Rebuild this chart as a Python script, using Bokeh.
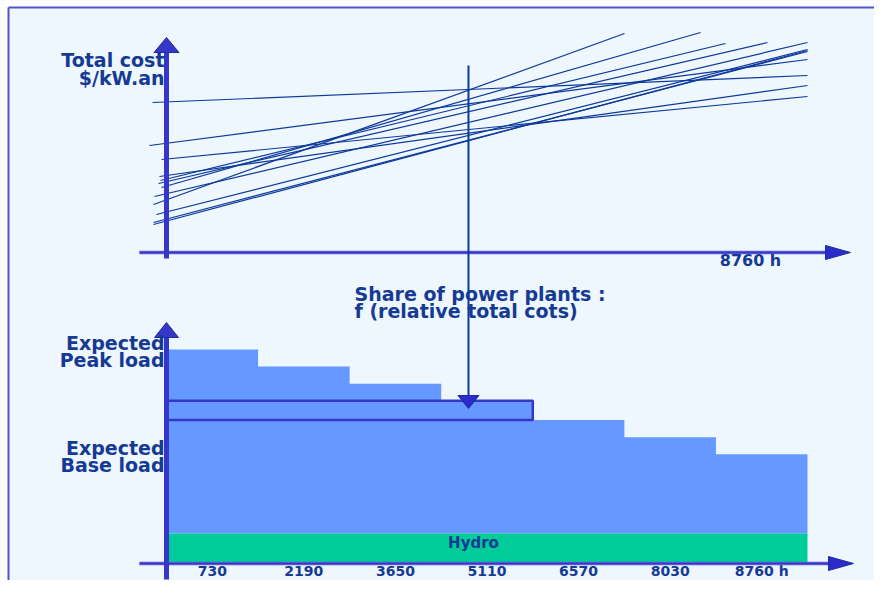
from bokeh.plotting import figure
from bokeh.models import Range1d
from bokeh.embed import file_html
from bokeh.resources import INLINE
from bokeh.core.properties import value

# ---------------- data ----------------
HOURS_TOTAL = 8760
N_BLOCKS = 7
block_loads = [100, 92, 84, 76, 67, 59, 51]      # expected load of each duration block
hydro_load = 14                                   # hydro base band
tick_labels = ["730", "2190", "3650", "5110", "6570", "8030", "8760 h"]
band_blocks = 4                                   # outlined share band spans first 4 blocks

# screening lines: start hour, start cost, end hour, end cost
line_h0 = [-191, -232, -68, -96, -109, -68, -164, -178, -137, -178, -178, -82]
line_c0 = [150, 107, 93, 76, 69, 65, 56, 48, 38, 28, 30, 72]
line_h1 = [8760, 8760, 8760, 8760, 8213, 7298, 8760, 6259, 8760, 8760, 8760, 7639]
line_c1 = [177, 193, 156, 167, 210, 220, 210, 219, 203, 202, 201, 209]

share_hour = 4127     # where the share arrow drops

# ---------------- layout / style (pixel scale) ----------------
W, H = 874, 580
PX_PER_H = 641 / 8760
PX_PER_LOAD = 2.14
PX_PER_COST = 1.0
ORIGIN_X = 166            # px of hour 0
COST_ORIGIN_Y = 252       # px of cost 0
LOAD_ORIGIN_Y = 567       # reference px of load 0
BOTTOM_SHIFT = 4          # lift the lower panel a little so its labels fit
BASE_SHIFT = 0.39         # renderer places alphabetic baseline ~0.39em low


def hx(px):      # x pixel -> hours
    return (px - ORIGIN_X) / PX_PER_H


def ly(py):      # reference y pixel (lower panel) -> load
    return (LOAD_ORIGIN_Y - py) / PX_PER_LOAD


def cy(py):      # y pixel -> cost
    return (COST_ORIGIN_Y - py) / PX_PER_COST


BG = "#eef6fe"
AXIS = "#3636c8"
AXIS_LIGHT = "#6262d8"
HEAD_LINE = "#1c2c9c"
LINE = "#0c3a9a"
TEXT = "#153a94"
BLOCK = "#6699ff"
HYDRO = "#00cc99"
BORDER = "#5252cc"
FONT = value("DejaVu Sans")

p = figure(width=W, height=H, output_backend="svg", toolbar_location=None,
           x_axis_location=None, y_axis_location=None, min_border=0,
           x_range=Range1d(hx(0), hx(W)),
           y_range=Range1d(ly(H + BOTTOM_SHIFT), ly(BOTTOM_SHIFT)))
p.extra_y_ranges = {"cost": Range1d(cy(H), cy(0))}
p.grid.visible = False
p.background_fill_color = BG
p.border_fill_color = BG
p.outline_line_color = None

# white page margin and frame border (left and top)
p.quad(left=[hx(0)], right=[hx(7.2)], bottom=[cy(H)], top=[cy(0)],
       fill_color="white", line_color=None, y_range_name="cost")
p.quad(left=[hx(0)], right=[hx(W)], bottom=[cy(6.2)], top=[cy(0)],
       fill_color="white", line_color=None, y_range_name="cost")
p.segment(x0=[hx(8)], y0=[cy(H)], x1=[hx(8)], y1=[cy(7)], line_color=BORDER, line_width=2,
          y_range_name="cost")
p.segment(x0=[hx(8)], y0=[cy(7)], x1=[hx(W)], y1=[cy(7)], line_color=BORDER, line_width=2,
          y_range_name="cost")


def label(xs, ys_px, texts, size, align, conv, rng="default"):
    ys = [conv(y - BASE_SHIFT * size) for y in ys_px]
    p.text(x=xs, y=ys, text=texts, text_align=align, text_baseline="alphabetic",
           text_font=FONT, text_font_style="bold", text_font_size=f"{size}px",
           text_color=TEXT, y_range_name=rng)


def vhead(x, base, direction, length_px, half_px, ppu, rng, color=AXIS):
    tip = base + direction * length_px / ppu
    hw = half_px / PX_PER_H
    p.patch([x - hw, x + hw, x], [base, base, tip], fill_color=color,
            line_color=HEAD_LINE, line_width=1, y_range_name=rng)


def hhead(base, y, length_px, half_px, ppu, rng):
    hh = half_px / ppu
    p.patch([base, base, base + length_px / PX_PER_H], [y - hh, y + hh, y],
            fill_color="#2b2bcc", line_color=HEAD_LINE, line_width=1, y_range_name=rng)


# ---------------- bottom panel: load duration blocks ----------------
bw = HOURS_TOTAL / N_BLOCKS
edges = [i * bw for i in range(N_BLOCKS + 1)]
centers = [(i + 0.5) * bw for i in range(N_BLOCKS)]
p.varea_step(x=edges, y1=[hydro_load] * (N_BLOCKS + 1), y2=block_loads + [block_loads[-1]],
             step_mode="after", fill_color=BLOCK)
p.quad(left=[0], right=[HOURS_TOTAL], bottom=[0], top=[hydro_load],
       fill_color=HYDRO, line_color=None)
p.quad(left=[0], right=[band_blocks * bw], bottom=[block_loads[band_blocks]],
       top=[block_loads[band_blocks - 1]], fill_color=None, line_color=AXIS, line_width=2.5)

label(centers, [580] * N_BLOCKS, tick_labels, 14, "center", ly)
label([hx(473)], [552], ["Hydro"], 15, "center", ly)

# bottom axes
p.segment(x0=[hx(139)], y0=[0], x1=[hx(828)], y1=[0], line_color=AXIS_LIGHT, line_width=3.5)
p.segment(x0=[hx(139)], y0=[0], x1=[hx(828)], y1=[0], line_color=AXIS, line_width=1.5)
hhead(hx(828), 0, 25, 7, PX_PER_LOAD, "default")
p.segment(x0=[0], y0=[ly(583)], x1=[0], y1=[ly(341)], line_color=AXIS, line_width=5)
vhead(0, ly(341), 1, 15, 12, PX_PER_LOAD, "default")

label([hx(164)] * 4, [354, 370.7, 459, 475.7],
      ["Expected", "Peak load", "Expected", "Base load"], 19, "right", ly)

# ---------------- top panel: total cost lines ----------------
p.segment(x0=line_h0, y0=line_c0, x1=line_h1, y1=line_c1, line_color=LINE,
          line_width=1.2, y_range_name="cost")

p.segment(x0=[hx(139)], y0=[0], x1=[hx(825)], y1=[0], line_color=AXIS_LIGHT,
          line_width=3.5, y_range_name="cost")
p.segment(x0=[hx(139)], y0=[0], x1=[hx(825)], y1=[0], line_color=AXIS,
          line_width=1.5, y_range_name="cost")
hhead(hx(825), 0, 25, 7, PX_PER_COST, "cost")
p.segment(x0=[0], y0=[cy(258)], x1=[0], y1=[cy(52)], line_color=AXIS, line_width=5,
          y_range_name="cost")
vhead(0, cy(52), 1, 15, 12.5, PX_PER_COST, "cost")

label([hx(164)] * 2, [67, 85], ["Total cost", "$/kW.an"], 19, "right", cy, "cost")
label([hx(750)], [266.7], ["8760 h"], 16, "center", cy, "cost")

# share text and arrow
label([hx(354)] * 2, [301, 318], ["Share of power plants :", "f (relative total cots)"],
      19, "left", cy, "cost")
p.segment(x0=[share_hour], y0=[ly(65 + BOTTOM_SHIFT)], x1=[share_hour], y1=[ly(399)],
          line_color=LINE, line_width=2)
vhead(share_hour, ly(399), -1, 13, 10.5, PX_PER_LOAD, "default", color="#2b2bcc")

open("out.html", "w").write(file_html(p, INLINE))
